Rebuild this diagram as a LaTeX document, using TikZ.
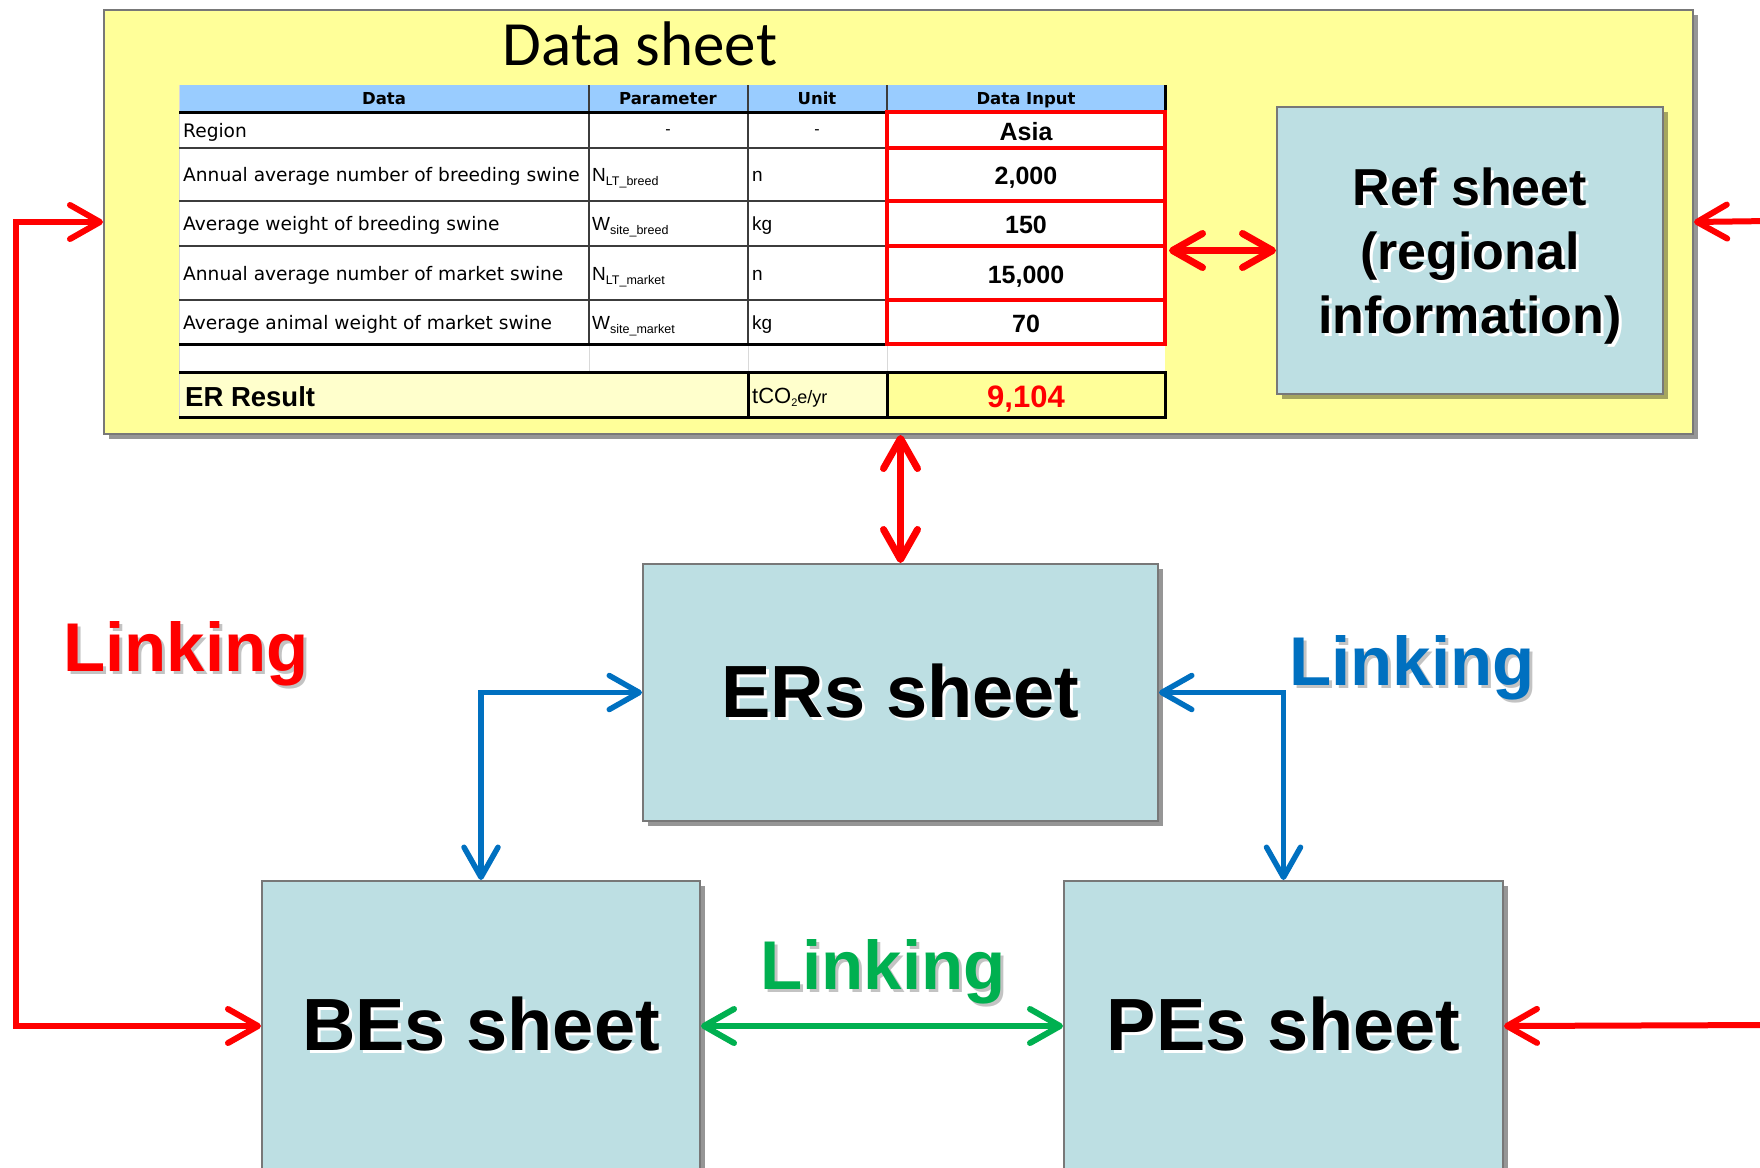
\documentclass[tikz,border=0pt]{standalone}
\usepackage{fontspec}
\setmainfont{Liberation Sans}
\newfontfamily\tahfont{DejaVu Sans}
\newfontfamily\califont{Carlito}
\usetikzlibrary{arrows.meta,shadows}

\definecolor{sheetyellow}{RGB}{255,255,153}
\definecolor{paleyellow}{RGB}{255,255,204}
\definecolor{headblue}{RGB}{153,204,255}
\definecolor{sheetblue}{RGB}{189,223,227}
\definecolor{edgegray}{RGB}{120,120,120}
\definecolor{shadegray}{RGB}{150,150,150}
\definecolor{shadeolive}{RGB}{165,165,95}
\definecolor{textshade}{RGB}{195,195,195}
\definecolor{rowline}{RGB}{60,60,60}
\definecolor{linkred}{RGB}{255,0,0}
\definecolor{linkblue}{RGB}{0,112,192}
\definecolor{linkgreen}{RGB}{0,176,80}

\newcommand\dropped[3]{\makebox[0pt][l]{\hspace{#1}\raisebox{-#1}{\color{#2}#3}}#3}
\newcommand\param[2]{{\fontsize{19}{19}\selectfont #1}\raisebox{-4pt}{\fontsize{12.5}{12.5}\selectfont #2}}

\tikzset{
	sheetbox/.style={draw=edgegray, line width=2pt, fill=sheetblue, anchor=north west, inner sep=0pt,
		drop shadow={shadow xshift=5pt, shadow yshift=-5pt, fill=shadegray, opacity=1}},
	sheetlabel/.style={font=\bfseries\fontsize{74}{74}\selectfont},
	linklabel/.style={anchor=base, font=\bfseries\fontsize{69}{69}\selectfont},
	redlink/.style={draw=linkred, line width=6pt, <->},
	bluelink/.style={draw=linkblue, line width=5.5pt, <->},
	greenlink/.style={draw=linkgreen, line width=6pt, <->},
	celltext/.style={anchor=base west, inner sep=0pt, font=\tahfont\fontsize{18.6}{20}\selectfont},
	headtext/.style={anchor=base, inner sep=0pt, font=\tahfont\bfseries\fontsize{16.5}{18}\selectfont},
	valuetext/.style={anchor=base, inner sep=0pt, font=\bfseries\fontsize{25}{25}\selectfont}
}

\begin{document}
\begin{tikzpicture}[x=1pt, y=-1pt, >={Straight Barb[length=30pt,width=34pt,round]}]
			%%%%% START %%%%%
			\useasboundingbox (0,0) rectangle (1760,1167);
			\fill[white] (0,0) rectangle (1760,1167);
			\clip (0,0) rectangle (1760,1167);
			
			\node[draw=edgegray, line width=2pt, fill=sheetyellow, anchor=north west, inner sep=0pt,
				minimum width=1589pt, minimum height=424pt,
				drop shadow={shadow xshift=5pt, shadow yshift=-5pt, fill=shadegray, opacity=1}] (data) at (103,9) {};
			\node[anchor=base, inner sep=0pt, font=\califont\fontsize{63}{63}\selectfont] (title) at (640,65) {Data sheet};
			
			\fill[headblue] (179,85) rectangle (1165,112);
			\fill[white] (179,112) rectangle (1165,372);
			\fill[paleyellow] (179,372) rectangle (887,417);
			\fill[sheetyellow] (887,372) rectangle (1165,417);
			
			\draw[gray!30, line width=1pt] (179,85) -- (179,417) (589,344) -- (589,372) (748,344) -- (748,372) (887,344) -- (887,372);
			\draw[rowline, line width=1.5pt] (589,85) -- (589,344) (748,85) -- (748,344) (887,85) -- (887,112);
			\foreach \y in {148,201,246,300}
				\draw[rowline, line width=1.5pt] (179,\y) -- (887,\y);
			\foreach \y in {112,344,372,417}
				\draw[black, line width=3pt] (179,\y) -- (1165,\y);
			\draw[black, line width=3pt] (1165,85) -- (1165,112) (748,372) -- (748,417);
			\draw[black, line width=3pt] (887,372) rectangle (1165,417);
			\foreach \ya/\yb in {112/148,148/201,201/246,246/300,300/344}
				\draw[linkred, line width=3.5pt] (887,\ya) rectangle (1165,\yb);
			
			\node[headtext] (hdata) at (384,104) {Data};
			\node[headtext] (hpar) at (668,104) {Parameter};
			\node[headtext] (hunit) at (817,104) {Unit};
			\node[headtext] (hinput) at (1026,104) {Data Input};
			
			\node[celltext] (region) at (183,137) {Region};
			\node[inner sep=0pt, font=\fontsize{16}{16}\selectfont] (rpar) at (668,132) {-};
			\node[inner sep=0pt, font=\fontsize{16}{16}\selectfont] (runit) at (817,132) {-};
			\node[valuetext] (asia) at (1026,140) {Asia};
			
			\foreach \y/\txt/\sym/\sub/\unit/\val [count=\i] in {
					174.5/Annual average number of breeding swine/N/LT\_breed/n/{2,000},
					223.5/Average weight of breeding swine/W/site\_breed/kg/150,
					273/Annual average number of market swine/N/LT\_market/n/{15,000},
					322/Average animal weight of market swine/W/site\_market/kg/70}{
				\node[celltext] (row\i) at (183,\y+7) {\txt};
				\node[anchor=base west, inner sep=0pt] (par\i) at (592,\y+7) {\param{\sym}{\sub}};
				\node[anchor=base west, inner sep=0pt, font=\fontsize{19}{19}\selectfont] (unit\i) at (752,\y+7) {\unit};
				\node[valuetext] (val\i) at (1026,\y+10) {\val};
			}
			
			\node[anchor=base west, inner sep=0pt, font=\bfseries\fontsize{27.5}{27.5}\selectfont] (erres) at (185,406) {ER Result};
			\node[anchor=base west, inner sep=0pt] (erunit) at (752,403)
				{\fontsize{22}{22}\selectfont tCO\raisebox{-3pt}{\fontsize{11}{11}\selectfont 2}\fontsize{18}{18}\selectfont e/yr};
			\node[anchor=base, inner sep=0pt, text=linkred, font=\bfseries\fontsize{31}{31}\selectfont] (erval) at (1026,407) {9,104};
			\coordinate (tableright) at (1169,0);
			
			\node[sheetbox, minimum width=386pt, minimum height=287pt,
				drop shadow={shadow xshift=5pt, shadow yshift=-5pt, fill=shadeolive, opacity=1}] (ref) at (1276,106) {};
			\node[align=center, inner sep=0pt, yshift=-7pt, font=\bfseries\fontsize{52}{64}\selectfont] (reftext) at (ref.center)
				{\dropped{3pt}{white}{Ref sheet}\\\dropped{3pt}{white}{(regional}\\\dropped{3pt}{white}{information)}};
			
			\node[sheetbox, sheetlabel, minimum width=515pt, minimum height=257pt] (ers) at (642,563) {\dropped{3pt}{white}{ERs sheet}};
			\node[sheetbox, sheetlabel, minimum width=438pt, minimum height=290pt] (bes) at (261,880) {\dropped{3pt}{white}{BEs sheet}};
			\node[sheetbox, sheetlabel, minimum width=439pt, minimum height=290pt] (pes) at (1063,880) {\dropped{3pt}{white}{PEs sheet}};
			
			\node[linklabel, text=linkred] (linkred) at (186,671) {\dropped{3pt}{textshade}{Linking}};
			\node[linklabel, text=linkblue] (linkblue) at (1412,685) {\dropped{3pt}{textshade}{Linking}};
			\node[linklabel, text=linkgreen] (linkgreen) at (883,989) {\dropped{3pt}{textshade}{Linking}};
			
			\coordinate (leftrail) at (16,0);
			\coordinate (topin) at (1770,221);
			\coordinate (bottomin) at (1770,1025);
			
			\draw[redlink, line width=7pt] (tableright |- ref.west) -- (ref.west);
			\draw[redlink, line width=7pt] (ers.north |- data.south) -- (ers.north);
			\draw[redlink, <-] (data.east) -- (topin);
			\draw[redlink, <-] (pes.east) -- (bottomin);
			\draw[redlink] (data.west) -- (data.west -| leftrail) |- (bes.west);
			\draw[bluelink] (ers.west) -| (bes.north);
			\draw[bluelink] (ers.east) -| (pes.north);
			\draw[greenlink] (bes.east) -- (pes.west);
			
			%%%%% END %%%%%
\end{tikzpicture}
\end{document}
